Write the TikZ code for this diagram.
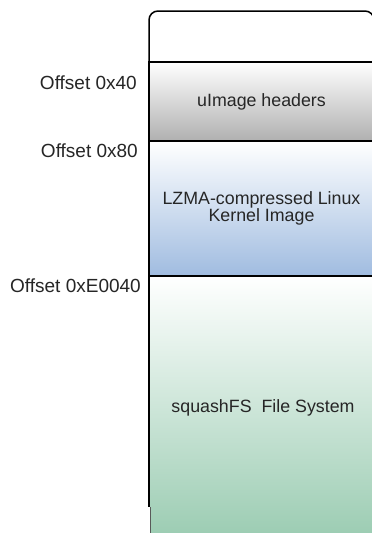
\documentclass[tikz,border=0pt]{standalone}
\usepackage{fontspec}
\setmainfont{Liberation Sans}
\begin{document}
\begin{tikzpicture}[x=1pt,y=-1pt,
  region/.style={draw=black, line width=1.5pt, anchor=north west, inner sep=0pt,
    outer sep=0pt, minimum width=225pt, align=center,
    font=\fontsize{17.8}{16.6}\selectfont, text=black!85},
  offsetlbl/.style={anchor=east, inner sep=0pt, font=\fontsize{19}{20}\selectfont,
    text=black!85}]
\useasboundingbox (0,0) rectangle (372,533);
\clip (0,0) rectangle (372,533);
\fill[white] (0,0) rectangle (372,533);

% rounded cap above the headers
\draw[line width=1.5pt, rounded corners=9pt] (149,64) -- (149,11) -- (374,11) -- (374,64);

% image regions, top to bottom
\node[region, minimum height=79pt, top color=white, bottom color=black!31]
  (hdr) at (149,62) {uImage headers};
\node[region, minimum height=135pt, top color=white, bottom color={rgb,255:red,160;green,188;blue,224}]
  (kernel) at (149,141) {LZMA-compressed Linux\\Kernel Image};
\node[region, minimum height=262pt, top color=white, bottom color={rgb,255:red,155;green,204;blue,178}]
  (fs) at (149,276) {};
\node[font=\fontsize{17.8}{16.6}\selectfont, text=black!85] (fslbl) at (263,407.5) {squashFS\ \ File System};
\draw[white, line width=2pt] (149,507) -- (149,540);
\draw[black!65, line width=0.7pt] (150.3,507) -- (150.3,540);

% offsets
\node[offsetlbl] (o40) at (137,83) {Offset 0x40};
\node[offsetlbl] (o80) at (138,150.5) {Offset 0x80};
\node[offsetlbl] (oE) at (141,286) {Offset 0xE0040};
\end{tikzpicture}
\end{document}
